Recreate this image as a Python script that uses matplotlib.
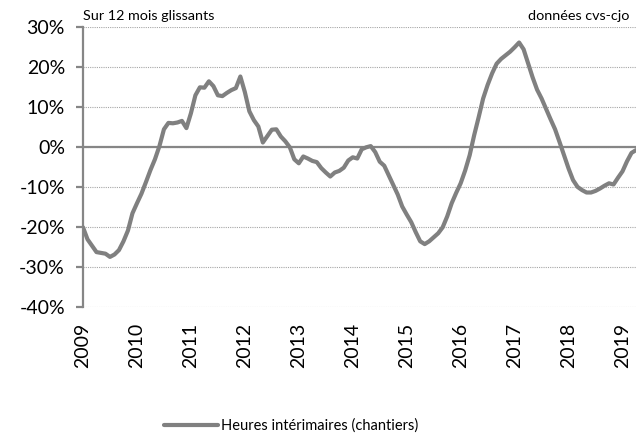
import matplotlib
matplotlib.use("Agg")
import matplotlib.pyplot as plt
import numpy as np

plt.rcParams['font.family'] = ['Lato', 'DejaVu Sans']

# monthly values, Jan 2009 -> Apr 2019 (% over 12 rolling months)
heures_interim = [
    -20.0, -23.0, -24.6, -26.2, -26.4, -26.6, -27.4, -26.8, -25.7, -23.5, -20.8, -16.5,  # 2009
    -14.0, -11.6, -8.7, -5.7, -3.0, 0.3, 4.5, 6.1, 6.0, 6.2, 6.6, 4.8,                 # 2010
    8.5, 13.0, 15.0, 14.9, 16.5, 15.3, 13.0, 12.8, 13.6, 14.3, 14.8, 17.7,             # 2011
    13.8, 9.0, 6.8, 5.2, 1.2, 2.8, 4.4, 4.5, 2.7, 1.5, 0.0, -3.0,                      # 2012
    -4.0, -2.3, -2.8, -3.4, -3.7, -5.2, -6.3, -7.3, -6.3, -5.9, -5.1, -3.3,            # 2013
    -2.5, -2.8, -0.5, 0.0, 0.3, -1.2, -3.6, -4.6, -7.0, -9.4, -11.8, -14.8,            # 2014
    -16.8, -18.7, -21.2, -23.5, -24.2, -23.5, -22.5, -21.5, -20.0, -17.3, -14.0, -11.4,  # 2015
    -9.0, -5.8, -2.0, 3.0, 7.5, 12.2, 15.6, 18.5, 20.9, 22.1, 23.0, 23.9,              # 2016
    25.0, 26.2, 24.5, 21.0, 17.5, 14.4, 12.2, 9.6, 7.0, 4.5, 1.3, -2.0,                # 2017
    -5.3, -8.2, -9.9, -10.7, -11.3, -11.3, -10.9, -10.3, -9.6, -9.0, -9.3, -7.6,       # 2018
    -6.0, -3.5, -1.4, -0.7,                                                          # 2019
]
years = ['2009', '2010', '2011', '2012', '2013', '2014',
         '2015', '2016', '2017', '2018', '2019']
y_ticks = [-40, -30, -20, -10, 0, 10, 20, 30]

GREY = '#808080'
AXIS_GREY = '#868686'

fig = plt.figure(figsize=(6.4, 4.48), dpi=100)
ax = fig.add_axes([83/640, 1 - 307.3/448, 553/640, 280/448])

x = np.arange(len(heures_interim))
line, = ax.plot(x, heures_interim, color=GREY, lw=3.0,
                solid_joinstyle='round', solid_capstyle='round', zorder=3,
                label='Heures intérimaires (chantiers)')

ax.set_xlim(0, len(heures_interim) - 1)
ax.set_ylim(-40, 30)

ax.set_yticks(y_ticks)
ax.set_yticklabels([f'{v}%' for v in y_ticks])
ax.yaxis.grid(True, linestyle=(0, (1, 1)), color='#a6a6a6', lw=0.8)
ax.axhline(0, color=AXIS_GREY, lw=1.6, zorder=2)

ax.set_xticks(np.arange(len(years)) * 12)
ax.set_xticklabels(years, rotation=90)

for s in ['top', 'right', 'bottom']:
    ax.spines[s].set_visible(False)
ax.spines['left'].set_color(AXIS_GREY)
ax.spines['left'].set_linewidth(1.6)

ax.tick_params(axis='y', length=5, width=1.6, color=AXIS_GREY,
               labelsize=14, pad=8)
ax.tick_params(axis='x', length=0, labelsize=14, pad=11)

fig.text(83/640, 1 - 20/448, 'Sur 12 mois glissants', fontsize=10.4,
         ha='left', va='baseline')
fig.text(629/640, 1 - 20/448, 'données cvs-cjo', fontsize=10.4,
         ha='right', va='baseline')

fig.legend(handles=[line], loc='center', bbox_to_anchor=(291/640, 1 - 426/448),
           frameon=False, fontsize=10.5, handlelength=3.7, handletextpad=0.2)

fig.savefig('out.png', dpi=100)
